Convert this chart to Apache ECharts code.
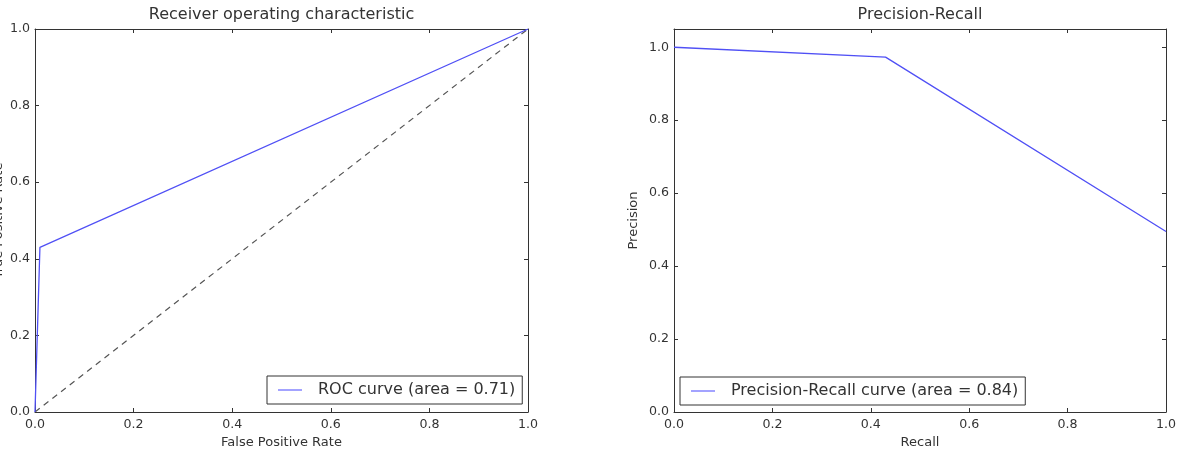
<!DOCTYPE html>
<html>
<head>
<meta charset="utf-8">
<script src="https://cdn.jsdelivr.net/npm/echarts@6/dist/echarts.min.js"></script>
<style>
html,body{margin:0;padding:0;background:#fff;}
#c{width:1179px;height:459px;}
</style>
</head>
<body>
<div id="c"></div>
<script>
// ---- data ----
const rocTitle = 'Receiver operating characteristic';
const prTitle = 'Precision-Recall';
const rocFpr = [0.0, 0.01, 1.0];
const rocTpr = [0.0, 0.43, 1.0];
const diagX = [0.0, 1.0];
const diagY = [0.0, 1.0];
const prRecall = [0.0, 0.43, 1.0];
const prPrecision = [1.0, 0.973, 0.495];
const rocLabel = 'ROC curve (area = 0.71)';
const prLabel = 'Precision-Recall curve (area = 0.84)';
const rocXName = 'False Positive Rate';
const rocYName = 'True Positive Rate';
const prXName = 'Recall';
const prYName = 'Precision';

const FONT = 'DejaVu Sans';
const TXT = '#333';
const AX = '#333';
const BLUE = '#5050f5';

function pairs(xs, ys) { return xs.map((x, i) => [x, ys[i]]); }

function axis(kind, gridIndex, opts) {
  const main = opts.main;
  const o = {
    type: 'value',
    gridIndex: gridIndex,
    min: 0, max: opts.max, interval: 0.2,
    position: opts.position,
    splitLine: { show: false },
    axisLine: { show: true, onZero: false, lineStyle: { color: AX, width: 1 } },
    axisTick: { show: true, inside: true, length: 4, lineStyle: { color: AX } },
    axisLabel: {
      show: main,
      fontFamily: FONT, fontSize: 12.6, color: TXT,
      margin: kind === 'x' ? 6 : 5,
      showMinLabel: true,
      showMaxLabel: opts.showMax,
      formatter: v => v.toFixed(1)
    }
  };
  if (main && opts.name) {
    o.name = opts.name;
    o.nameLocation = 'middle';
    o.nameGap = opts.nameGap;
    o.nameTextStyle = { fontFamily: FONT, fontSize: 13, color: TXT };
  }
  return o;
}

const option = {
  animation: false,
  backgroundColor: '#fff',
  title: [
    { text: rocTitle, left: 281.5, top: 7, textAlign: 'center', padding: 0,
      textStyle: { fontFamily: FONT, fontSize: 16, fontWeight: 'normal', color: TXT } },
    { text: prTitle, left: 920, top: 7, textAlign: 'center', padding: 0,
      textStyle: { fontFamily: FONT, fontSize: 16, fontWeight: 'normal', color: TXT } }
  ],
  grid: [
    { left: 35, top: 29, width: 493, height: 383, containLabel: false, outerBoundsMode: 'none' },
    { left: 674, top: 29, width: 492, height: 383, containLabel: false, outerBoundsMode: 'none' }
  ],
  xAxis: [
    axis('x', 0, { main: true, max: 1.0, position: 'bottom', showMax: true, name: rocXName, nameGap: 23 }),
    axis('x', 0, { main: false, max: 1.0, position: 'top', showMax: true }),
    axis('x', 1, { main: true, max: 1.0, position: 'bottom', showMax: true, name: prXName, nameGap: 23 }),
    axis('x', 1, { main: false, max: 1.0, position: 'top', showMax: true })
  ],
  yAxis: [
    axis('y', 0, { main: true, max: 1.0, position: 'left', showMax: true, name: rocYName, nameGap: 30 }),
    axis('y', 0, { main: false, max: 1.0, position: 'right', showMax: true }),
    axis('y', 1, { main: true, max: 1.05, position: 'left', showMax: false, name: prYName, nameGap: 34 }),
    axis('y', 1, { main: false, max: 1.05, position: 'right', showMax: false })
  ],
  legend: [
    {
      data: [{ name: rocLabel, icon: 'rect' }],
      left: 267, top: 376,
      padding: [6, 7, 6, 11],
      itemWidth: 24, itemHeight: 1.6,
      borderColor: '#333', borderWidth: 1, borderRadius: 0,
      backgroundColor: '#fff',
      textStyle: { fontFamily: FONT, fontSize: 16, color: TXT, padding: [0, 0, 0, 11] },
      selectedMode: false
    },
    {
      data: [{ name: prLabel, icon: 'rect' }],
      left: 680, top: 377,
      padding: [6, 7, 6, 11],
      itemWidth: 24, itemHeight: 1.6,
      borderColor: '#333', borderWidth: 1, borderRadius: 0,
      backgroundColor: '#fff',
      textStyle: { fontFamily: FONT, fontSize: 16, color: TXT, padding: [0, 0, 0, 11] },
      selectedMode: false
    }
  ],
  series: [
    {
      name: rocLabel, type: 'line', xAxisIndex: 0, yAxisIndex: 0,
      data: pairs(rocFpr, rocTpr),
      showSymbol: false, symbol: 'none',
      lineStyle: { color: BLUE, width: 1.3 }, itemStyle: { color: '#8c8cff' },
      z: 3
    },
    {
      name: 'diag', type: 'line', xAxisIndex: 0, yAxisIndex: 0,
      data: pairs(diagX, diagY),
      showSymbol: false, symbol: 'none',
      lineStyle: { color: '#555', width: 1.2, type: [6, 5] },
      z: 2
    },
    {
      name: prLabel, type: 'line', xAxisIndex: 2, yAxisIndex: 2,
      data: pairs(prRecall, prPrecision),
      showSymbol: false, symbol: 'none',
      lineStyle: { color: BLUE, width: 1.3 }, itemStyle: { color: '#8c8cff' },
      z: 3
    }
  ]
};

const chart = echarts.init(document.getElementById('c'), null, { renderer: 'canvas' });
chart.setOption(option);
</script>
</body>
</html>
